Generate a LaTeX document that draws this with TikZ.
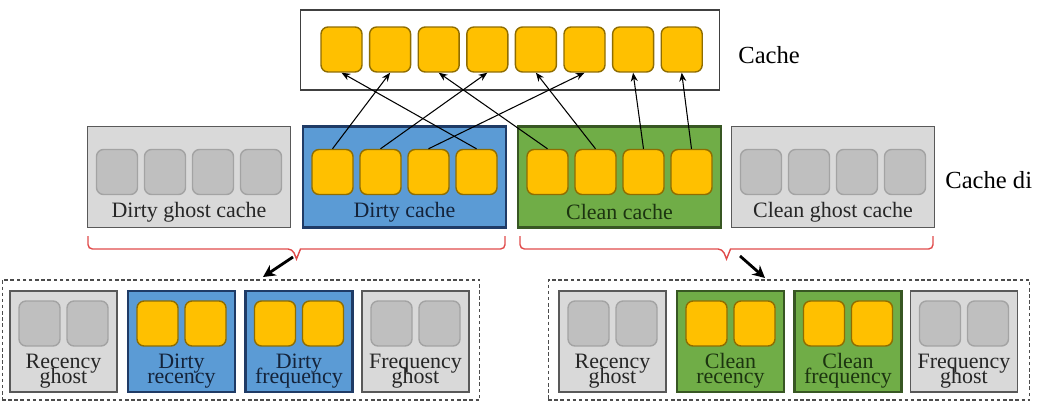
\documentclass[tikz,border=0pt]{standalone}
\usepackage{fontspec}
\setmainfont{Liberation Serif}
\usetikzlibrary{arrows.meta}
\usetikzlibrary{calc}
\usetikzlibrary{positioning}

\definecolor{blkfill}{HTML}{FFC000}
\definecolor{blkedge}{HTML}{8F6D00}
\definecolor{gfill}{HTML}{BFBFBF}
\definecolor{gedge}{HTML}{A3A3A3}
\definecolor{ghostfill}{HTML}{D9D9D9}
\definecolor{ghostedge}{HTML}{595959}
\definecolor{dirtyfill}{HTML}{5B9BD5}
\definecolor{dirtyedge}{HTML}{1F3B66}
\definecolor{cleanfill}{HTML}{70AD47}
\definecolor{cleanedge}{HTML}{385723}
\definecolor{bracered}{HTML}{E04B4B}
\definecolor{dirtytext}{HTML}{14233A}
\definecolor{cleantext}{HTML}{1C3410}
\definecolor{ghosttext}{HTML}{262626}

\begin{document}
\lineskiplimit=-20pt
\begin{tikzpicture}[
        x=0.02cm, y=-0.02cm,
        blk/.style={draw=blkedge, fill=blkfill, rounded corners=4pt, line width=0.8pt,
            minimum width=0.82cm, minimum height=0.9cm, inner sep=0},
        gblk/.style={blk, draw=gedge, fill=gfill},
        topbox/.style={draw=black!75, fill=white, line width=0.6pt,
            minimum width=8.4cm, minimum height=1.6cm, inner sep=0},
        ghostbox/.style={draw=ghostedge, fill=ghostfill, line width=0.9pt, inner sep=0},
        dirtybox/.style={draw=dirtyedge, fill=dirtyfill, line width=1.6pt, inner sep=0},
        cleanbox/.style={draw=cleanedge, fill=cleanfill, line width=1.6pt, inner sep=0},
        midbox/.style={minimum width=4.06cm, minimum height=2.02cm},
        lowbox/.style={minimum width=2.14cm, minimum height=2.02cm},
        grpbox/.style={draw=black!70, line width=0.6pt, dash pattern=on 2pt off 1.5pt,
            minimum height=2.4cm, inner sep=0},
        boxlabel/.style={font=\fontsize{12.5}{13}\selectfont, inner sep=0},
        lowlabel/.style={font=\fontsize{12.5}{8.5}\selectfont, align=center, inner sep=0},
        sidelabel/.style={font=\fontsize{14}{15}\selectfont, inner sep=0},
        bracestyle/.style={draw=bracered, line width=0.8pt},
        >={Stealth[length=5pt, width=4pt]}
    ]
        \useasboundingbox (0,0) rectangle (1038,402);

        % 顶部缓存
        \node[topbox] (cache) at (510,50) {};
        \foreach \i in {1,...,8} {
            \node[blk] (t-\i) at ({341.5+48.6*(\i-1)}, 49.5) {};
        }
        \node[sidelabel, anchor=west] (cache-lbl) at (738,55) {Cache};

        % 中间四个分区
        \foreach \name/\boxstyle/\x/\txt/\sq/\tc in {
            dghost/ghostbox/189/Dirty ghost cache/gblk/ghosttext,
            dirty/dirtybox/404.5/Dirty cache/blk/dirtytext,
            clean/cleanbox/619.5/Clean cache/blk/cleantext,
            cghost/ghostbox/833/Clean ghost cache/gblk/ghosttext} {
            \node[\boxstyle, midbox] (\name) at (\x,177) {};
            \foreach \k/\dx in {1/-72, 2/-24, 3/24, 4/72} {
                \node[\sq] (\name-\k) at (\x+\dx,172) {};
            }
            \node[boxlabel, text=\tc] (\name-lbl) at (\x,212) {\txt};
        }
        \node[sidelabel, anchor=west] (dir-lbl) at (945,180) {Cache di};

        % 中间到顶部的箭头
        \draw[->, line width=0.6pt] (dirty-1.north) -- (t-2.south);
        \draw[->, line width=0.6pt] (dirty-2.north) -- (t-4.south);
        \draw[->, line width=0.6pt] (dirty-3.north) -- (t-6.south);
        \draw[->, line width=0.6pt] (dirty-4.north) -- (t-1.south);
        \draw[->, line width=0.6pt] (clean-1.north) -- (t-3.south);
        \draw[->, line width=0.6pt] (clean-2.north) -- (t-5.south);
        \draw[->, line width=0.6pt] (clean-3.north) -- (t-7.south);
        \draw[->, line width=0.6pt] (clean-4.north) -- (t-8.south);

        % 花括号
        \foreach \bl/\br/\bt in {88/505/296.5, 520/933/726.5} {
            \draw[bracestyle, rounded corners=2.5pt] (\bl,236) -- (\bl,249) -- (\bt-4,249)
                [sharp corners] -- (\bt,259) -- (\bt+4,249)
                [rounded corners=2.5pt] -- (\br,249) -- (\br,236);
        }
        \coordinate (dbrace-tip) at (293,257);
        \coordinate (cbrace-tip) at (740,256);

        % 底部两组
        \node[grpbox, minimum width=9.56cm] (low-d) at (241,340) {};
        \node[grpbox, minimum width=9.64cm] (low-c) at (789,340) {};
        \coordinate (low-d-in) at (263,277);
        \coordinate (low-c-in) at (765,278);
        \draw[-{Stealth[length=7pt, width=7pt]}, line width=1.6pt] (dbrace-tip) -- (low-d-in);
        \draw[-{Stealth[length=7pt, width=7pt]}, line width=1.6pt] (cbrace-tip) -- (low-c-in);

        \foreach \name/\boxstyle/\x/\txt/\sq/\tc in {
            dl-1/ghostbox/63.5/Recency\\ghost/gblk/ghosttext,
            dl-2/dirtybox/181.5/Dirty\\recency/blk/dirtytext,
            dl-3/dirtybox/299/Dirty\\frequency/blk/dirtytext,
            dl-4/ghostbox/415.5/Frequency\\ghost/gblk/ghosttext,
            cl-1/ghostbox/612.5/Recency\\ghost/gblk/ghosttext,
            cl-2/cleanbox/730.5/Clean\\recency/blk/cleantext,
            cl-3/cleanbox/848/Clean\\frequency/blk/cleantext,
            cl-4/ghostbox/964/Frequency\\ghost/gblk/ghosttext} {
            \node[\boxstyle, lowbox] (\name) at (\x,341.5) {};
            \node[\sq] (\name-1) at (\x-24,323.5) {};
            \node[\sq] (\name-2) at (\x+24,323.5) {};
            \node[lowlabel, text=\tc] (\name-lbl) at (\x,371) {\txt};
        }
    \end{tikzpicture}
\end{document}
